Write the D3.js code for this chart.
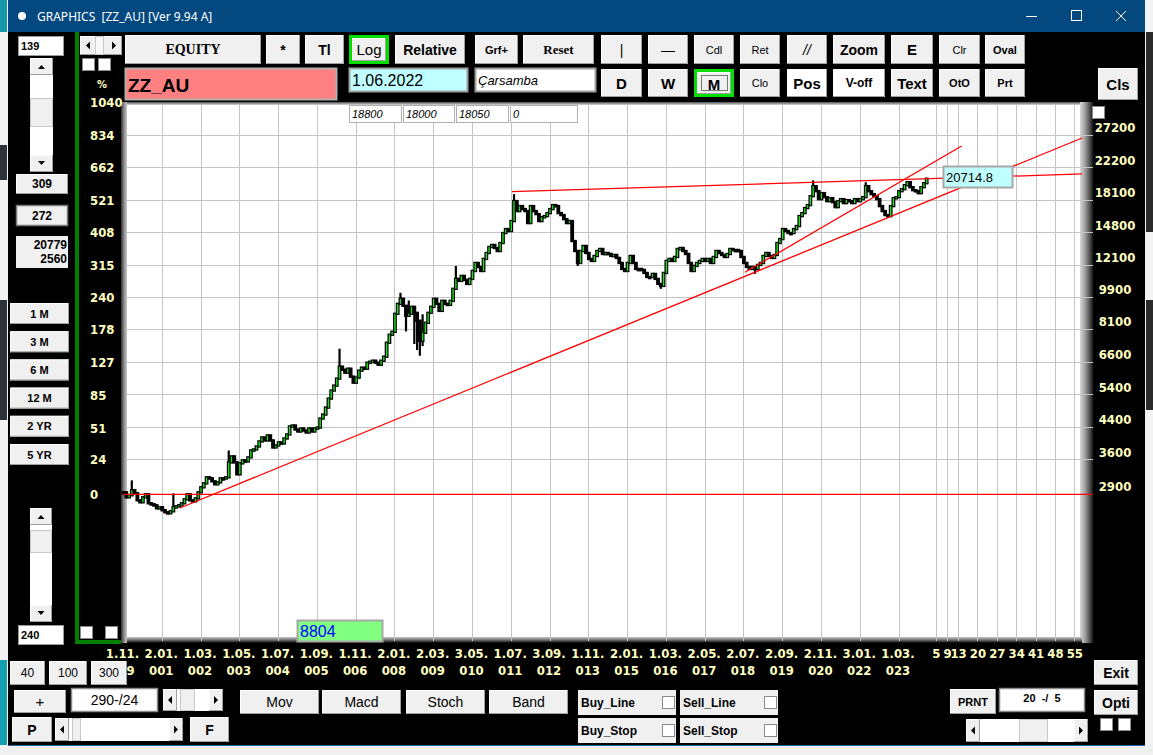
<!DOCTYPE html>
<html lang="en">
<head>
<meta charset="UTF-8">
<title>GRAPHICS [ZZ_AU] [Ver 9.94 A]</title>
<script src="https://d3js.org/d3.v7.min.js"></script>
<style>
  html, body { margin: 0; padding: 0; background: #000; overflow: hidden; }
  svg { display: block; }
  text { font-family: "Liberation Sans", Arial, sans-serif; }
  .axis { font-family: "Liberation Sans Narrow", "DejaVu Sans Condensed", sans-serif; font-weight: bold; font-size: 13px; fill: #ffffc0; }
</style>
</head>
<body>
<svg id="chart" width="1153" height="755"></svg>
<script>
// monthly closes, 1.11.1999 .. end 2023 (right-axis units)
const closes = [
  2936,2846,2882,2973,2918,2793,2759,2846,2900,2742,
  2725,2708,2658,2675,2625,2593,2577,2609,2675,2691,
  2708,2742,2811,2900,2793,2776,2828,2936,3029,3105,
  3223,3203,3144,3086,3124,3203,3203,3223,3538,3672,
  3538,3284,3516,3582,3560,3650,3811,3835,3907,4031,
  4132,4056,4184,4056,3883,3932,4006,3981,4106,4210,
  4425,4452,4342,4289,4369,4315,4263,4369,4289,4369,
  4396,4650,4766,4978,5265,5535,5708,5963,6423,6304,
  6187,6343,6037,5815,6000,6265,6383,6343,6584,6625,
  6666,6584,6503,6666,6834,7455,7835,7982,8927,9500,
  9799,9383,8817,8927,9325,8982,8547,7547,7933,8441,
  8982,9325,9799,9500,9094,9678,9500,9441,9678,10432,
  11097,10960,11305,11028,10756,11097,11659,12256,11955,11659,
  12567,13041,13537,13706,13453,13204,13877,14767,15136,14951,
  15911,18019,16932,17466,17143,16932,15715,17466,16932,16618,
  15911,16310,16412,16721,17143,17574,17466,16721,16515,16105,
  15715,15911,14049,13204,12256,13204,13621,13041,12567,12412,
  12801,13204,13370,12961,13041,12961,12801,12881,12645,12256,
  11807,11659,12256,12801,12256,11807,11807,11734,11517,11236,
  11236,11446,11097,10756,10624,11517,12412,12567,12412,12723,
  13370,13453,13204,12961,12256,11659,12030,12256,12412,12567,
  12412,12567,12256,12723,13204,13041,12881,12723,12961,13370,
  13287,13287,13204,12723,12256,11955,11807,11955,11807,12105,
  12256,12801,13041,12801,12645,12881,13877,14224,15136,14951,
  14767,14767,15136,15424,16412,16721,17250,17574,18584,19775,
  19170,18241,18934,18469,18016,18354,17905,17356,18016,18241,
  17795,18128,18016,17795,18241,18016,18241,18469,19776,19170,
  18817,18584,18241,17466,16932,16515,16412,17466,18354,18469,
  19170,19409,19899,20272,19652,19290,19170,18934,19652,20147,
  20715
];
// notable wicks [bar index, price]
const wickHighs = [[3,3163],[18,2918],[38,3811],[78,7183],[100,10176],[103,9700],[106,9030],[107,8600],[108,8900],
                   [120,12030],[141,18817],[249,20500],[268,20270],[290,20779]];
const wickLows = [[102,8000],[105,7400],[106,7126],[107,6878],[108,7300],[164,12030],[194,10432],[228,11453]];

const dateLabels = ["1.11.","2.01.","1.03.","1.05.","1.07.","1.09.","1.11.","2.01.","2.03.","3.05.","1.07.",
                    "3.09.","1.11.","2.01.","1.03.","2.05.","2.07.","2.09.","2.11.","3.01.","1.03."];
const yearLabels = ["999","001","002","003","004","005","006","008","009","010","011",
                    "012","013","015","016","017","018","019","020","022","023"];
const futureOffsets = [5,9,13,20,27,34,41,48,55];
const priceLabels = [2900,3600,4400,5400,6600,8100,9900,12100,14800,18100,22200,27200];
const pctLabels = [0,24,51,85,127,178,240,315,408,521,662,834,1040];

// drawn trend lines: [index0, price0, index1, price1]
const trendLines = [
  [0, 2900, 350, 2900],
  [20.4, 2663, 346.1, 26698],
  [140.2, 19107, 346.1, 21336],
  [224.4, 11565, 302.6, 25401]
];
const lastPrice = 20714.8;

const svg = d3.select("#chart");
const defs = svg.append("defs");

function grad(id, x2, y2, stops) {
  const g = defs.append("linearGradient").attr("id", id)
    .attr("x1", 0).attr("y1", 0).attr("x2", x2).attr("y2", y2);
  stops.forEach(s => g.append("stop").attr("offset", s[0]).attr("stop-color", s[1]));
}
grad("gLeft", 1, 0, [[0, "#303030"], [0.5, "#8a8a8a"], [1, "#c8c8c8"]]);
grad("gRight", 1, 0, [[0, "#d8d8d8"], [0.35, "#a0a0a0"], [0.7, "#505050"], [1, "#000"]]);
grad("gBottom", 0, 1, [[0, "#c8c8c8"], [0.5, "#707070"], [1, "#000"]]);
grad("gTop", 0, 1, [[0, "#505050"], [1, "#d8d8d8"]]);

// ---- window / desktop background ----
svg.append("rect").attr("width", 1153).attr("height", 755).attr("fill", "#000");
svg.append("rect").attr("x", 0).attr("y", 0).attr("width", 8).attr("height", 755).attr("fill", "#f2f2f2");
[[0, 32, "#1599a8"], [145, 35, "#2d3339"], [300, 120, "#2d3339"], [660, 95, "#15a0b0"]].forEach(d =>
  svg.append("rect").attr("x", 0).attr("y", d[0]).attr("width", 7).attr("height", d[1]).attr("fill", d[2]));
svg.append("rect").attr("x", 1145).attr("y", 0).attr("width", 8).attr("height", 755).attr("fill", "#f3f3f3");
[[32, 200, "#2a2a2a"], [300, 110, "#2a2a2a"]].forEach(d =>
  svg.append("rect").attr("x", 1146).attr("y", d[0]).attr("width", 7).attr("height", d[1]).attr("fill", d[2]));
svg.append("rect").attr("x", 0).attr("y", 745).attr("width", 1153).attr("height", 10).attr("fill", "#f0f0f0");
svg.append("line").attr("x1", 8).attr("x2", 1145).attr("y1", 745.5).attr("y2", 745.5).attr("stroke", "#2a6bb0");

// title bar
svg.append("rect").attr("x", 8).attr("y", 0).attr("width", 1137).attr("height", 32).attr("fill", "#03497f");
svg.append("circle").attr("cx", 22).attr("cy", 16).attr("r", 4).attr("fill", "#fff");
svg.append("text").attr("x", 37).attr("y", 21).attr("fill", "#fff")
  .style("font-family", "'Noto Sans', 'Open Sans', sans-serif").style("font-size", "12px")
  .style("white-space", "pre").text("GRAPHICS  [ZZ_AU] [Ver 9.94 A]");
svg.append("line").attr("x1", 1026).attr("x2", 1037).attr("y1", 16.5).attr("y2", 16.5).attr("stroke", "#fff");
svg.append("rect").attr("x", 1071.5).attr("y", 10.5).attr("width", 10).attr("height", 10).attr("fill", "none").attr("stroke", "#fff");
svg.append("path").attr("d", "M1116,11L1126,21M1126,11L1116,21").attr("stroke", "#fff");

// ---- UI helpers ----
function button(x, y, w, h, label, o = {}) {
  const g = svg.append("g");
  g.append("rect").attr("x", x).attr("y", y).attr("width", w).attr("height", h)
    .attr("fill", o.fill || "#f0f0f0");
  g.append("path").attr("d", `M${x + 0.5},${y + h}V${y + 0.5}H${x + w}`).attr("stroke", "#fdfdfd").attr("fill", "none");
  g.append("path").attr("d", `M${x},${y + h - 0.5}H${x + w - 0.5}V${y}`).attr("stroke", "#a0a0a0").attr("fill", "none");
  if (label !== undefined) {
    g.append("text").attr("x", o.tx !== undefined ? o.tx : x + w / 2).attr("y", y + h / 2 + (o.dy || 0))
      .attr("text-anchor", o.anchor || "middle").attr("dominant-baseline", "central")
      .style("font-size", (o.size || 13) + "px").style("font-weight", o.bold === false ? "normal" : "bold")
      .style("font-style", o.italic ? "italic" : "normal")
      .style("font-family", o.font || "'Liberation Sans', Arial, sans-serif")
      .style("white-space", "pre").attr("fill", o.color || "#000").text(label);
  }
  return g;
}
function field(x, y, w, h, label, o = {}) {
  svg.append("rect").attr("x", x + 0.5).attr("y", y + 0.5).attr("width", w - 1).attr("height", h - 1)
    .attr("fill", o.fill || "#fff").attr("stroke", o.stroke || "#9a9a9a").attr("stroke-width", o.sw || 1);
  if (label !== undefined) {
    svg.append("text").attr("x", o.anchor === "end" ? x + w - 3 : (o.anchor === "middle" ? x + w / 2 : x + 3))
      .attr("y", y + h / 2 + (o.dy || 0)).attr("dominant-baseline", "central")
      .attr("text-anchor", o.anchor || "start")
      .style("font-size", (o.size || 12) + "px").style("font-weight", o.bold ? "bold" : "normal")
      .style("font-style", o.italic ? "italic" : "normal").style("white-space", "pre")
      .attr("fill", o.color || "#000").text(label);
  }
}
function checkbox(x, y, s = 12) {
  svg.append("rect").attr("x", x + 0.5).attr("y", y + 0.5).attr("width", s).attr("height", s)
    .attr("fill", "#fff").attr("stroke", "#8a8a8a");
}
function vscroll(x, y, w, h, thumbY, thumbH) {
  svg.append("rect").attr("x", x).attr("y", y).attr("width", w).attr("height", h).attr("fill", "#fff");
  button(x, y, w, 17);
  button(x, y + h - 17, w, 17);
  svg.append("path").attr("d", `M${x + w / 2 - 3.5},${y + 11}L${x + w / 2},${y + 7}L${x + w / 2 + 3.5},${y + 11}Z`).attr("fill", "#000");
  svg.append("path").attr("d", `M${x + w / 2 - 3.5},${y + h - 11}L${x + w / 2},${y + h - 7}L${x + w / 2 + 3.5},${y + h - 11}Z`).attr("fill", "#000");
  svg.append("rect").attr("x", x + 0.5).attr("y", thumbY + 0.5).attr("width", w - 1).attr("height", thumbH)
    .attr("fill", "#f0f0f0").attr("stroke", "#c8c8c8");
}
function hscroll(x, y, w, h, thumbX, thumbW) {
  svg.append("rect").attr("x", x).attr("y", y).attr("width", w).attr("height", h).attr("fill", "#fff");
  button(x, y, 14, h);
  button(x + w - 14, y, 14, h);
  const cy = y + h / 2;
  svg.append("path").attr("d", `M${x + 5},${cy}L${x + 9},${cy - 4}L${x + 9},${cy + 4}Z`).attr("fill", "#000");
  svg.append("path").attr("d", `M${x + w - 5},${cy}L${x + w - 9},${cy - 4}L${x + w - 9},${cy + 4}Z`).attr("fill", "#000");
  svg.append("rect").attr("x", thumbX + 0.5).attr("y", y + 0.5).attr("width", thumbW).attr("height", h - 1)
    .attr("fill", "#f0f0f0").attr("stroke", "#c8c8c8");
}

// ---- chart frame ----
const L = 127, R = 1080, T = 105, B = 637;
svg.append("rect").attr("x", L).attr("y", T).attr("width", R - L).attr("height", B - T).attr("fill", "#fff");
svg.append("rect").attr("x", 121).attr("y", 102).attr("width", 6).attr("height", 541).attr("fill", "url(#gLeft)");
svg.append("rect").attr("x", L).attr("y", 102).attr("width", R - L).attr("height", 3).attr("fill", "url(#gTop)");
svg.append("rect").attr("x", R).attr("y", 102).attr("width", 14).attr("height", 541).attr("fill", "url(#gRight)");
svg.append("rect").attr("x", L).attr("y", B).attr("width", R - L + 2).attr("height", 6).attr("fill", "url(#gBottom)");

// ---- scales ----
const x = d3.scaleLinear().domain([0, 280]).range([123.5, 899]);
const y = d3.scaleLog().domain([2900, 27200]).range([494.3, 135]);
const yPct = d3.scaleLog().domain([1, 1 + 834 / 100]).range([494.3, 135]);
const FUTURE_BASE = 288.5;

const dateIdx = d3.range(0, dateLabels.length * 14, 14);
const gridG = svg.append("g").attr("stroke", "#c4c4c4").attr("stroke-width", 1).attr("shape-rendering", "crispEdges");
dateIdx.slice(1).concat(futureOffsets.map(k => FUTURE_BASE + k)).forEach(i =>
  gridG.append("line").attr("x1", x(i)).attr("x2", x(i)).attr("y1", T).attr("y2", B + 4));
priceLabels.slice(1).forEach(p =>
  gridG.append("line").attr("x1", L).attr("x2", 1093).attr("y1", y(p)).attr("y2", y(p)));

// ---- candles ----
const hiMap = new Map(wickHighs), loMap = new Map(wickLows);
const candles = closes.map((c, i) => {
  const o = i === 0 ? c : closes[i - 1];
  return { i, o, c, h: Math.max(o, c, hiMap.get(i) || 0), l: Math.min(o, c, loMap.get(i) || Infinity) };
});
const cg = svg.append("g");
cg.selectAll("line").data(candles).enter().append("line")
  .attr("x1", d => x(d.i)).attr("x2", d => x(d.i))
  .attr("y1", d => y(d.h)).attr("y2", d => y(d.l))
  .attr("stroke", "#000").attr("stroke-width", 2.2);
cg.selectAll("rect").data(candles).enter().append("rect")
  .attr("x", d => x(d.i) - 1.3).attr("width", 2.6)
  .attr("y", d => y(Math.max(d.o, d.c)) - 0.6)
  .attr("height", d => Math.max(1.2, Math.abs(y(d.o) - y(d.c))) + 1.2)
  .attr("fill", d => d.c > d.o ? "#19e619" : "#000")
  .attr("stroke", "#000").attr("stroke-width", 1.2);

// ---- trend lines ----
svg.append("g").selectAll("line").data(trendLines).enter().append("line")
  .attr("x1", d => x(d[0])).attr("y1", d => y(d[1]))
  .attr("x2", d => x(d[2])).attr("y2", d => y(d[3]))
  .attr("stroke", "#ff0000").attr("stroke-width", 1.3);

// ---- axis labels ----
svg.append("g").selectAll("text").data(pctLabels).enter().append("text")
  .attr("class", "axis").attr("x", 90).attr("y", d => yPct(1 + d / 100))
  .attr("dominant-baseline", "central").text(d => d);
svg.append("text").attr("class", "axis").attr("x", 97).attr("y", 88).style("font-size", "11px").text("%");
svg.append("g").selectAll("text").data(priceLabels).enter().append("text")
  .attr("class", "axis").attr("x", 1115).attr("y", d => y(d) - 7.5)
  .attr("text-anchor", "middle").attr("dominant-baseline", "central").text(d => d);
const dl = svg.append("g");
dateLabels.forEach((d, k) => {
  dl.append("text").attr("class", "axis").attr("x", x(dateIdx[k]) - 1).attr("y", 653)
    .attr("text-anchor", "middle").attr("dominant-baseline", "central").text(d);
  dl.append("text").attr("class", "axis").attr("x", x(dateIdx[k]) - 1).attr("y", 670)
    .attr("text-anchor", "middle").attr("dominant-baseline", "central").text(yearLabels[k]);
});
futureOffsets.forEach(k =>
  dl.append("text").attr("class", "axis").attr("x", x(FUTURE_BASE + k)).attr("y", 653)
    .attr("text-anchor", "middle").attr("dominant-baseline", "central").text(k));

// price box
field(943, 166, 70, 22, d3.format(".1f")(lastPrice), { fill: "#c0ffff", stroke: "#a8a8a8", sw: 2, size: 13 });
// cursor value boxes over the plot
[["18800", 349, 53], ["18000", 403, 52], ["18050", 456, 53], ["0", 510, 68]].forEach(b =>
  field(b[1], 105, b[2], 18, b[0], { italic: true, size: 11, stroke: "#b0b0b0" }));
checkbox(1092, 106);
field(297, 620, 86, 22, "8804", { fill: "#80ff80", stroke: "#a8a8a8", sw: 2, size: 16, color: "#0000ff" });

// ---- green divider ----
svg.append("rect").attr("x", 75).attr("y", 32).attr("width", 4).attr("height", 612).attr("fill", "#008000");
svg.append("rect").attr("x", 75).attr("y", 640).attr("width", 46).attr("height", 4).attr("fill", "#008000");

// ---- toolbar ----
button(80, 36, 42, 19);
svg.append("path").attr("d", "M86,45.5L90,41.5L90,49.5Z M116,45.5L112,41.5L112,49.5Z").attr("fill", "#000");
svg.append("rect").attr("x", 95.5).attr("y", 36.5).attr("width", 8).attr("height", 18).attr("fill", "#f8f8f8").attr("stroke", "#c8c8c8");
checkbox(82, 58); checkbox(98, 58);

const row1 = [
  ["EQUITY", 125, 136, { font: "'Liberation Serif', serif", size: 14 }],
  ["*", 266, 34, { size: 14 }], ["Tl", 305, 39, { size: 14 }],
  ["Relative", 395, 70, { size: 14 }], ["Grf+", 475, 43, { size: 11 }],
  ["Reset", 523, 71, { font: "'Liberation Serif', serif", size: 13 }],
  ["|", 601, 41, { size: 14, bold: false }], ["—", 648, 40, { size: 14, bold: false }],
  ["Cdl", 694, 40, { size: 11, bold: false }], ["Ret", 740, 40, { size: 11, bold: false }],
  ["//", 787, 40, { size: 14, bold: false, italic: true }], ["Zoom", 833, 52, { size: 14 }],
  ["E", 891, 42, { size: 15 }], ["Clr", 939, 41, { size: 11, bold: false }], ["Oval", 985, 40, { size: 11 }]
];
row1.forEach(b => button(b[1], 35, b[2], 29, b[0], b[3]));
svg.append("rect").attr("x", 349).attr("y", 35).attr("width", 40).attr("height", 29).attr("fill", "#00e000");
button(352, 38, 34, 23, "Log", { size: 15, bold: false });

const row2 = [
  ["D", 601, 41, { size: 15 }], ["W", 648, 40, { size: 15 }],
  ["Clo", 740, 40, { size: 11, bold: false }], ["Pos", 787, 40, { size: 15, fill: "#fff" }],
  ["V-off", 833, 52, { size: 12, fill: "#fff" }], ["Text", 891, 42, { size: 15 }],
  ["OtO", 939, 41, { size: 11 }], ["Prt", 985, 40, { size: 11 }]
];
row2.forEach(b => button(b[1], 69, b[2], 28, b[0], b[3]));
svg.append("rect").attr("x", 694).attr("y", 69).attr("width", 40).attr("height", 28).attr("fill", "#00e000");
button(697, 72, 34, 22, "M", { size: 15, dy: 1 });
svg.append("rect").attr("x", 701.5).attr("y", 75.5).attr("width", 26).attr("height", 15)
  .attr("fill", "none").attr("stroke", "#000").attr("stroke-dasharray", "1,1");
button(1098, 68, 40, 32, "Cls", { size: 15 });

field(125, 68, 212, 32, "ZZ_AU", { fill: "#ff8080", stroke: "#b0b0b0", sw: 2, size: 19, bold: true, dy: 1 });
field(349, 68, 119, 24, "1.06.2022", { fill: "#c0ffff", stroke: "#a0a0a0", sw: 2, size: 16 });
field(475, 68, 121, 24, "Çarsamba", { stroke: "#a0a0a0", sw: 2, size: 13, italic: true });

// ---- left panel ----
field(18, 36, 46, 20, "139", { bold: true, size: 11 });
vscroll(30, 58, 23, 114, 98, 28);
button(16, 174, 52, 20, "309", { size: 12 });
field(16, 205, 52, 21, "272", { fill: "#f0f0f0", stroke: "#7a7a7a", sw: 1.5, bold: true, size: 12, anchor: "middle" });
svg.append("rect").attr("x", 16).attr("y", 236).attr("width", 52).attr("height", 32).attr("fill", "#f0f0f0");
svg.append("text").attr("x", 67).attr("y", 245).attr("text-anchor", "end").attr("dominant-baseline", "central")
  .style("font-size", "12px").style("font-weight", "bold").text("20779");
svg.append("text").attr("x", 67).attr("y", 259).attr("text-anchor", "end").attr("dominant-baseline", "central")
  .style("font-size", "12px").style("font-weight", "bold").text("2560");
["1 M", "3 M", "6 M", "12 M", "2 YR", "5 YR"].forEach((t, k) =>
  button(10, 303 + k * 28.2, 59, 21, t, { size: 11 }));
vscroll(30, 508, 22, 114, 530, 22);
field(18, 625, 46, 20, "240", { bold: true, size: 11 });
checkbox(80, 626); checkbox(105, 626);

// ---- bottom bar ----
button(10, 661, 35, 24, "40", { size: 12, bold: false });
button(49, 661, 38, 24, "100", { size: 12, bold: false });
button(91, 661, 36, 24, "300", { size: 12, bold: false });
button(14, 690, 52, 23, "+", { size: 15, bold: false });
field(71, 688, 87, 24, "290-/24", { stroke: "#8a8a8a", sw: 1.5, size: 14, anchor: "middle" });
hscroll(163, 689, 60, 22, 180, 14);
button(12, 717, 40, 25, "P", { size: 14 });
hscroll(55, 718, 128, 23, 72, 8);
button(190, 717, 39, 25, "F", { size: 14 });
[["Mov", 240], ["Macd", 322], ["Stoch", 406], ["Band", 489]].forEach(b =>
  button(b[1], 690, 79, 24, b[0], { size: 14, bold: false }));
[["Buy_Line", 578, 690], ["Buy_Stop", 578, 718], ["Sell_Line", 680, 690], ["Sell_Stop", 680, 718]].forEach(b => {
  svg.append("rect").attr("x", b[1]).attr("y", b[2]).attr("width", 98).attr("height", 25).attr("fill", "#f0f0f0");
  svg.append("text").attr("x", b[1] + 3).attr("y", b[2] + 13).attr("dominant-baseline", "central")
    .style("font-size", "12px").style("font-weight", "bold").text(b[0]);
  checkbox(b[1] + 84, b[2] + 6, 12);
});
button(950, 689, 46, 25, "PRNT", { size: 11 });
field(999, 688, 86, 24, "20  -/  5", { stroke: "#8a8a8a", sw: 1.5, size: 11, bold: true, anchor: "middle", dy: -2 });
hscroll(966, 719, 122, 23, 1019, 28);
button(1094, 660, 44, 25, "Exit", { size: 14 });
button(1094, 690, 44, 25, "Opti", { size: 14 });
checkbox(1100, 718); checkbox(1118, 718);
</script>
</body>
</html>
